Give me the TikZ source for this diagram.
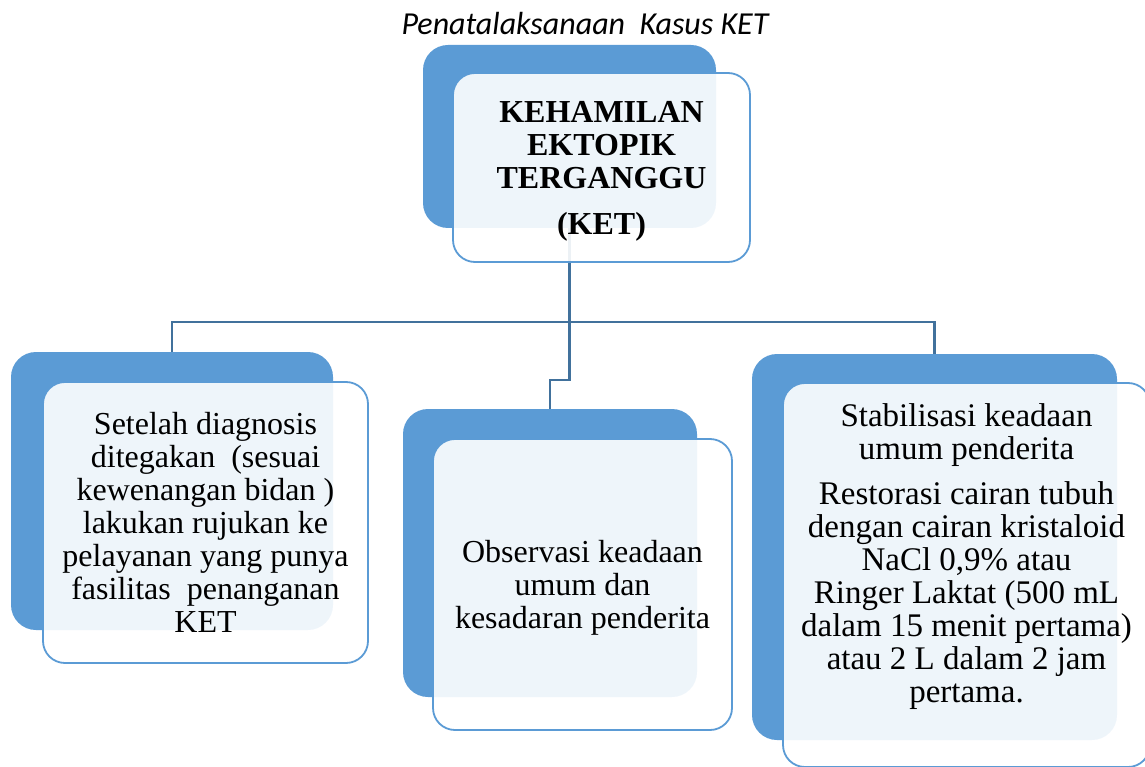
\documentclass[tikz,border=0pt]{standalone}
\usepackage{fontspec}
\setmainfont{Liberation Serif}
\newfontfamily\titlefont{Carlito}
\usetikzlibrary{positioning,calc}
\definecolor{accblue}{RGB}{91,155,213}
\definecolor{lineblue}{RGB}{65,113,156}
\begin{document}
\begin{tikzpicture}[x=1pt,y=-1pt,
    backbox/.style={fill=accblue, rounded corners=25pt, inner sep=0pt},
    frontbox/.style={draw=accblue, line width=1.8pt, fill=white, fill opacity=0.9,
        text opacity=1, rounded corners=22pt, inner sep=0pt, align=center,
        font=\fontsize{32}{33}\selectfont},
    conn/.style={draw=lineblue, line width=2.5pt}]
    \useasboundingbox (0,0) rectangle (1145,767);
    \clip (0,0) rectangle (1145,767);
    \node[font=\titlefont\itshape\fontsize{32}{33}\selectfont, anchor=base] (title) at (585,35) {Penatalaksanaan\ \ Kasus KET};
    \node[backbox, minimum width=293pt, minimum height=183pt] (tback) at (569.5,136.5) {};
    \node[backbox, minimum width=322pt, minimum height=278pt] (lback) at (172,491) {};
    \node[backbox, minimum width=294pt, minimum height=288pt] (mback) at (550,553) {};
    \node[backbox, minimum width=365pt, minimum height=386pt] (rback) at (934.5,547) {};
    \coordinate (hub) at (569.5,322);
    \coordinate (bend) at (569.5,380);
    \draw[conn] (tback.south) -- (hub);
    \draw[conn] (hub) -| (lback.north);
    \draw[conn] (hub) -| (rback.north);
    \draw[conn] (hub) -- (bend) -| (mback.north);
    \node[frontbox, minimum width=297pt, minimum height=189pt,
        font=\bfseries\fontsize{32}{33}\selectfont] (ket) at (601.5,167.5) {};
    \node[align=center, font=\bfseries\fontsize{32}{33}\selectfont] (kettext) at ($(ket.center)+(0,4)$)
        {KEHAMILAN\\EKTOPIK\\TERGANGGU\\[13pt](KET)};
    \node[frontbox, minimum width=325pt, minimum height=281pt] (rujuk) at (205.5,522.5)
        {Setelah diagnosis\\ditegakan\ \ (sesuai\\kewenangan bidan )\\lakukan rujukan ke\\pelayanan yang punya\\fasilitas\ \ penanganan\\KET};
    \node[frontbox, minimum width=299pt, minimum height=291pt] (obs) at (582.5,584.5) {};
    \node[align=center, font=\fontsize{32}{33}\selectfont] (obstext) at ($(obs.center)+(0,3)$)
        {Observasi keadaan\\umum dan\\kesadaran penderita};
    \node[frontbox, minimum width=367pt, minimum height=384pt] (stab) at (966.5,575) {};
    \node[align=center, font=\fontsize{33}{33}\selectfont] (stabtext) at ($(stab.center)+(0,-18)$)
        {Stabilisasi keadaan\\umum penderita\\[12pt]Restorasi cairan tubuh\\dengan cairan kristaloid\\NaCl 0,9\% atau\\Ringer Laktat (500 mL\\dalam 15 menit pertama)\\atau 2 L dalam 2 jam\\pertama.};
\end{tikzpicture}
\end{document}
